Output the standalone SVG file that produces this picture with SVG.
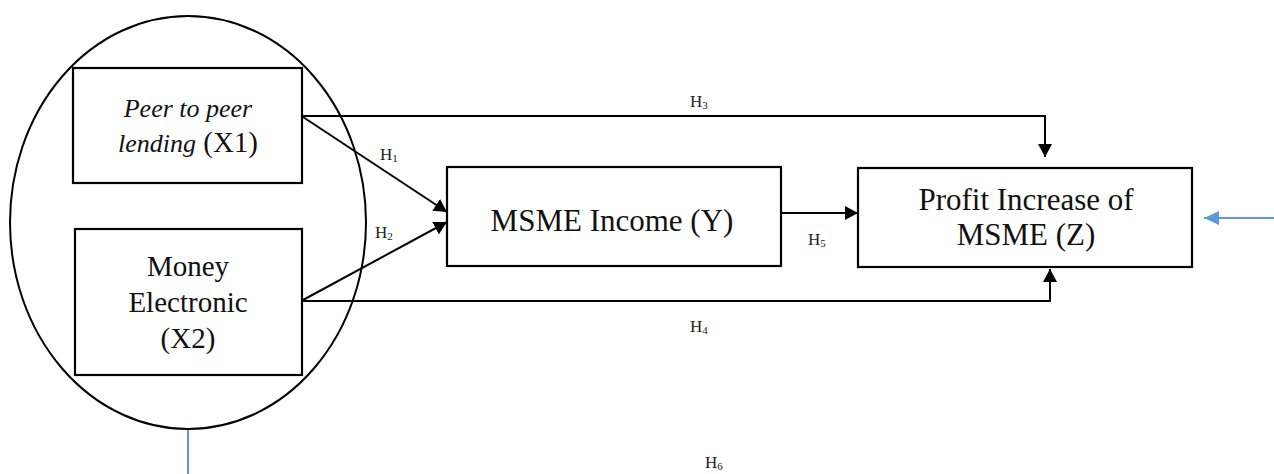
<svg xmlns="http://www.w3.org/2000/svg" width="1274" height="474" viewBox="0 0 1274 474">
<style>
.box{fill:#fff;stroke:#000;stroke-width:2.2}
.big{font-family:"Liberation Serif","Times New Roman",serif;font-size:29px;fill:#111;text-anchor:middle}
.zt{font-size:31px}
.it{font-style:italic;font-size:26px}
.lab{font-family:"Liberation Serif","Times New Roman",serif;font-size:17px;fill:#222}
.sub{font-size:11px}
.con{fill:none;stroke:#000;stroke-width:2}
.blue{fill:none;stroke:#5B9BD5;stroke-width:2}
</style>
<defs>
<marker id="ah" markerUnits="userSpaceOnUse" markerWidth="14" markerHeight="14" refX="13" refY="7" orient="auto">
<path d="M0,0 L13,7 L0,14 z" fill="#000"/>
</marker>
<marker id="ahb" markerUnits="userSpaceOnUse" markerWidth="15" markerHeight="14" refX="15" refY="7" orient="auto">
<path d="M0,0 L15,7 L0,14 z" fill="#5B9BD5"/>
</marker>
</defs>
<rect width="1274" height="474" fill="#fff"/>
<g id="group-ellipse">
<ellipse cx="188" cy="222.5" rx="178" ry="206.5" fill="none" stroke="#000" stroke-width="2"/>
</g>
<g id="node-x1">
<rect class="box" x="73" y="68" width="229" height="115"/>
<text class="big" x="188" y="117"><tspan class="it">Peer to peer</tspan></text>
<text class="big" x="188" y="152"><tspan class="it">lending</tspan> (X1)</text>
</g>
<g id="node-x2">
<rect class="box" x="75" y="229" width="227" height="146"/>
<text class="big" x="188" y="276">Money</text>
<text class="big" x="188" y="312">Electronic</text>
<text class="big" x="188" y="348">(X2)</text>
</g>
<g id="node-y">
<rect class="box" x="447" y="167" width="334" height="99"/>
<text class="big zt" x="612" y="231">MSME Income (Y)</text>
</g>
<g id="node-z">
<rect class="box" x="858" y="168" width="334" height="99"/>
<text class="big zt" x="1026" y="210">Profit Increase of</text>
<text class="big zt" x="1026" y="245">MSME (Z)</text>
</g>
<g id="connectors">
<path class="con" d="M303,116 H1045 V157" marker-end="url(#ah)"/>
<path class="con" d="M303,301 H1050 V269" marker-end="url(#ah)"/>
<path class="con" d="M303,117 L447,212" marker-end="url(#ah)"/>
<path class="con" d="M303,300 L447,222" marker-end="url(#ah)"/>
<path class="con" d="M781,213 H858" marker-end="url(#ah)"/>
<path class="blue" d="M1274,218 H1204" marker-end="url(#ahb)"/>
<path class="blue" d="M188,430 V474"/>
</g>
<g id="labels">
<text class="lab" x="690" y="107">H<tspan class="sub" dy="2">3</tspan></text>
<text class="lab" x="380" y="160">H<tspan class="sub" dy="2">1</tspan></text>
<text class="lab" x="375" y="238">H<tspan class="sub" dy="2">2</tspan></text>
<text class="lab" x="808" y="245">H<tspan class="sub" dy="2">5</tspan></text>
<text class="lab" x="690" y="332">H<tspan class="sub" dy="2">4</tspan></text>
<text class="lab" x="705" y="468">H<tspan class="sub" dy="2">6</tspan></text>
</g>
</svg>
